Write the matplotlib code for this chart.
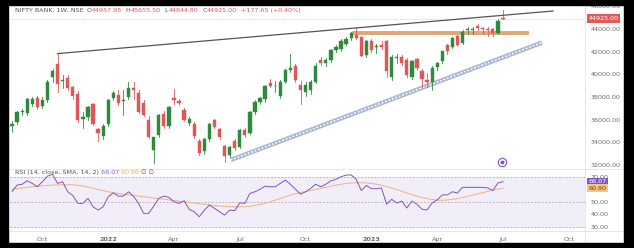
import numpy as np
import matplotlib.pyplot as plt
from matplotlib.patches import Rectangle

# weekly candles, NIFTY BANK (index 0 = week of 23 Aug 2021)
opens = [35400, 35750, 36650, 36600, 37400, 37900, 37200, 37700, 39750, 40900,
         39450, 39700, 38900, 38300, 36100, 36250, 37350, 35150, 34600, 35600,
         37900, 38200, 37650, 38000, 38750, 38350, 37450, 35950, 33350, 34650,
         36500, 35450, 37900, 37650, 36850, 35700, 35600, 34150, 33250, 34300,
         35950, 35150, 33650, 32900, 34100, 33600, 35100, 34850, 36700, 37600,
         37800, 39250, 38950, 38100, 39350, 40400, 40700, 39100, 38400, 38650,
         39350, 41300, 41000, 41300, 42150, 42250, 42700, 43250, 43480, 43300,
         41700, 42980, 42450, 42600, 42900, 39800, 41450, 41500, 41270, 39800,
         41330, 40330, 39500, 39350, 40670, 41150, 42590, 42440, 43380, 42790,
         43900, 43950, 44270, 44090, 43950, 43970, 43670, 44957.95]
highs = [35900, 36800, 36900, 37900, 38000, 38100, 38000, 39500, 40500, 41830,
         39900, 39900, 39000, 38500, 36700, 37200, 37500, 35300, 35600, 37800,
         38500, 38650, 38600, 39300, 39300, 38600, 37700, 36300, 34500, 36500,
         36800, 37200, 38700, 37850, 37000, 36200, 35800, 34300, 34400, 35700,
         36100, 35300, 33800, 33700, 34300, 35200, 35300, 36800, 37700, 38000,
         39100, 39600, 39400, 39500, 40500, 41800, 40900, 39400, 39300, 39500,
         41000, 41500, 41400, 42200, 42600, 43100, 43300, 43700, 44150, 43400,
         43000, 43100, 42700, 42900, 43000, 41700, 41800, 41700, 41400, 41300,
         41400, 40500, 40100, 40700, 41100, 42100, 42700, 43300, 43500, 43900,
         44150, 44200, 44450, 44200, 44200, 44100, 44850, 45655.50]
lows = [34900, 35600, 36400, 36400, 37200, 36900, 37000, 37600, 39300, 38400,
        38800, 38600, 37800, 35800, 35300, 36000, 35500, 34150, 34300, 35400,
        37700, 37300, 36400, 37800, 37800, 36600, 36300, 34400, 32200, 34500,
        35300, 35300, 37400, 37300, 35900, 35500, 34400, 32900, 33000, 34100,
        35300, 34300, 32300, 32700, 33300, 33500, 34500, 34700, 36500, 37400,
        37600, 38900, 38400, 37900, 39200, 40200, 39300, 37400, 38100, 38300,
        39200, 40800, 40700, 41100, 42000, 42100, 42600, 43000, 43100, 41600,
        41500, 42000, 41900, 42200, 39800, 39500, 41000, 40800, 39800, 39600,
        40400, 38900, 38900, 38600, 40400, 41000, 41800, 42300, 42500, 42700,
        43600, 43600, 43900, 43600, 43400, 43350, 43600, 44844.80]
closes = [35600, 36700, 36750, 37800, 37800, 37100, 37700, 39300, 40300, 39150,
          39500, 38800, 38100, 36000, 36200, 37100, 35650, 34850, 35450, 37700,
          38350, 37500, 37700, 38800, 38600, 36700, 36450, 34500, 34450, 36400,
          35450, 37100, 37700, 37450, 36000, 36050, 34600, 33100, 34300, 35600,
          35350, 34450, 32800, 33600, 33500, 35100, 34650, 36700, 37600, 37900,
          38950, 38950, 39000, 39350, 40350, 40600, 39500, 38630, 39100, 39300,
          40700, 41000, 41250, 42150, 42400, 42980, 43100, 43630, 43200, 41650,
          42980, 42150, 42500, 42450, 40250, 41550, 41520, 40970, 39950, 41200,
          40530, 39560, 39350, 40530, 41030, 42030, 42090, 43180, 42590, 43760,
          43970, 44020, 44090, 43990, 43940, 43620, 44750, 44925.00]

rsi_vals = [58, 63.3, 64, 66.8, 64.7, 62, 66, 70.5, 72, 64.7,
            66, 58, 55, 48.7, 48.7, 52.7, 46, 43.3, 46, 54,
            57.2, 54.5, 54.5, 58, 54.5, 48.7, 40.7, 40.7, 46.5, 52.7,
            54.5, 53.5, 50, 48.7, 50.8, 43.9, 42, 38, 43.3, 47.3,
            44.7, 42, 39.3, 43.3, 42.8, 49.2, 48.7, 56.7, 58, 60,
            62.5, 62, 62, 64.7, 67.3, 64, 60, 56, 58, 60.7,
            64, 62, 64, 66.7, 68, 70, 71.3, 71.5, 68, 59,
            63, 60.5, 60.5, 61, 48, 52, 49, 50.5, 45, 50.5,
            48, 44, 43.5, 49, 51.5, 55.5, 55.5, 58, 57, 61.5,
            61.5, 61.5, 61.5, 61.5, 61, 59, 65, 66.07]
rsi_sma = [60, 60.5, 61, 61.5, 62, 62.3, 62.7, 63, 63.3, 63.5,
           63.6, 63.6, 63.5, 63.2, 62.6, 61.8, 60.8, 59.8, 58.8, 58,
           57.2, 56.6, 56, 55.5, 55, 54.5, 54, 53.5, 53, 52.5,
           52, 51.5, 51, 50.5, 50, 49.5, 49, 48.5, 48, 47.5,
           47, 46.6, 46.3, 46, 45.9, 45.9, 46, 46.4, 47, 47.8,
           48.8, 50, 51.3, 52.6, 54, 55.3, 56.5, 57.4, 58.2, 59,
           59.8, 60.7, 61.6, 62.5, 63.3, 64, 64.6, 65, 65.2, 65.2,
           65, 64.6, 64, 63.2, 62.2, 61, 59.7, 58.3, 57, 55.7,
           54.5, 53.4, 52.5, 51.8, 51.3, 51.2, 51.4, 51.9, 52.6, 53.4,
           54.3, 55.3, 56.3, 57.3, 58.3, 59.3, 60.1, 60.80]

tick_pos = [6, 19, 32, 45, 58, 71, 84, 97, 110]
tick_lab = ['Oct', '2022', 'Apr', 'Jul', 'Oct', '2023', 'Apr', 'Jul', 'Oct']
price_ticks = [32000, 34000, 36000, 38000, 40000, 42000, 44000, 46000]
rsi_ticks = [30, 40, 50, 70]

GREEN = '#2e8b3e'
RED = '#e0575a'
PURPLE = '#7e57c2'
ORANGE = '#f2b27a'

W, H = 634, 248
fig = plt.figure(figsize=(W / 100, H / 100), dpi=100)
fig.patch.set_facecolor('black')


def box(x0, y0, x1, y1):
    return [x0 / W, 1 - y1 / H, (x1 - x0) / W, (y1 - y0) / H]


panel = fig.add_axes(box(8, 5, 624, 243))
panel.set_xlim(8, 624)
panel.set_ylim(243, 5)
panel.axis('off')
panel.add_patch(Rectangle((8, 5), 616, 238, color='white', zorder=0))
panel.plot([585, 585], [5, 243], color='#e3e3e3', lw=0.6)
panel.plot([8, 624], [168.5, 168.5], color='#e3e3e3', lw=0.6)
panel.plot([8, 624], [231, 231], color='#e3e3e3', lw=0.6)

ax = fig.add_axes(box(10, 5, 585, 168))
rs = fig.add_axes(box(10, 169, 585, 230), sharex=ax)

n = len(closes)
x = np.arange(n)
for i in range(n):
    o, h, l, c = opens[i], highs[i], lows[i], closes[i]
    col = GREEN if c >= o else RED
    ax.plot([x[i], x[i]], [l, h], color=col, lw=0.6, zorder=3)
    ax.add_patch(Rectangle((x[i] - 0.32, min(o, c)), 0.64, max(abs(c - o), 25),
                           facecolor=col, edgecolor=col, lw=0.3, zorder=4))

# drawings
ax.plot([9, 106.9], [41829, 45590], color='#555555', lw=0.9, zorder=5)
ax.add_patch(Rectangle((67.2, 43560), 34.8, 270, facecolor='#e3a673',
                       edgecolor='#cf8c55', lw=0.4, zorder=2))
ax.plot([43.2, 104.7], [32440, 42800], color='#a9b5d3', lw=3.2,
        solid_capstyle='butt', zorder=2)
ax.plot([43.2, 104.7], [32440, 42800], color='white', lw=1.1,
        dashes=(1.2, 1.2), zorder=2)
ax.axhline(44925, color=RED, lw=0.5, ls=(0, (1, 2)), alpha=0.7, zorder=1)
ax.plot([96.8], [32290], marker='o', ms=6, mfc='white', mec=PURPLE, mew=0.8, zorder=6)
ax.plot([96.8], [32290], marker='o', ms=1.8, color=PURPLE, zorder=7)

ax.set_xlim(-0.4, 113.2)
ax.set_ylim(31734, 46118)
ax.set_facecolor('none')
for s in ax.spines.values():
    s.set_visible(False)
ax.yaxis.tick_right()
ax.set_yticks(price_ticks)
ax.set_yticklabels(['%.2f' % v for v in price_ticks], fontsize=4.6, color='#6a6a6a')
ax.tick_params(axis='y', length=0, pad=4)
ax.tick_params(axis='x', bottom=False, labelbottom=False)
ax.text(1.006, 44925, '44925.00', transform=ax.get_yaxis_transform(), fontsize=4.6,
        color='white', va='center', ha='left',
        bbox=dict(boxstyle='square,pad=0.25', fc='#e05a5a', ec='none'))

# header line, one piece after another
hdr = [('  O', '#555555'), ('44957.95', RED), ('  H', '#555555'), ('45655.50', RED),
       ('  L', '#555555'), ('44844.80', RED), ('  C', '#555555'), ('44925.00', RED),
       ('  +177.65 (+0.40%)', RED)]
t = ax.text(0.008, 0.952, 'NIFTY BANK, 1W, NSE', transform=ax.transAxes,
            fontsize=4.6, va='bottom', color='#555555')
for s, c in hdr:
    t = ax.annotate(s, xycoords=t, xy=(1, 0), va='bottom', fontsize=4.6, color=c)

# RSI pane
rs.axhspan(30, 70, color='#f1edf9', zorder=0)
for lv in [70, 50, 30]:
    rs.axhline(lv, color='#a0a0a0', lw=0.5, dashes=(2.5, 2.5), zorder=1)
rs.plot(x, rsi_sma, color=ORANGE, lw=0.7, zorder=2)
rs.plot(x, rsi_vals, color=PURPLE, lw=0.7, zorder=3)
rs.set_ylim(27.4, 76.2)
rs.set_facecolor('none')
for s in rs.spines.values():
    s.set_visible(False)
rs.yaxis.tick_right()
rs.set_yticks(rsi_ticks)
rs.set_yticklabels(['%.2f' % v for v in rsi_ticks], fontsize=4.6, color='#6a6a6a')
rs.tick_params(axis='y', length=0, pad=4)
rs.set_xticks(tick_pos)
rs.set_xticklabels(tick_lab, fontsize=4.6, color='#6a6a6a')
for lab in rs.get_xticklabels():
    if lab.get_text().isdigit():
        lab.set_fontweight('bold')
rs.tick_params(axis='x', length=0, pad=5)
rs.text(1.006, 66.07, '66.07', transform=rs.get_yaxis_transform(), fontsize=4.6,
        color='white', va='center', ha='left',
        bbox=dict(boxstyle='square,pad=0.25', fc=PURPLE, ec='none'))
rs.text(1.006, 60.80, '60.80', transform=rs.get_yaxis_transform(), fontsize=4.6,
        color='#5a4a30', va='center', ha='left',
        bbox=dict(boxstyle='square,pad=0.25', fc='#f7c37d', ec='none'))

r = rs.text(0.008, 0.99, 'RSI (14, close, SMA, 14, 2) ', transform=rs.transAxes,
            fontsize=4.6, va='top', color='#555555')
for s, c in [('66.07 ', PURPLE), ('60.80 ', '#e9b04f'), ('\u2205 \u2205', '#555555')]:
    r = rs.annotate(s, xycoords=r, xy=(1, 0), va='bottom', fontsize=4.6, color=c)

# black frame round the screenshot, drawn over everything
for fx0, fy0, fx1, fy1 in [(0, 0, W, 5), (0, 243, W, H), (0, 0, 8, H), (624, 0, W, H)]:
    fig.add_artist(Rectangle((fx0 / W, 1 - fy1 / H), (fx1 - fx0) / W, (fy1 - fy0) / H,
                             transform=fig.transFigure, color='black', zorder=20))

fig.savefig('out.png', dpi=100, facecolor='black')
